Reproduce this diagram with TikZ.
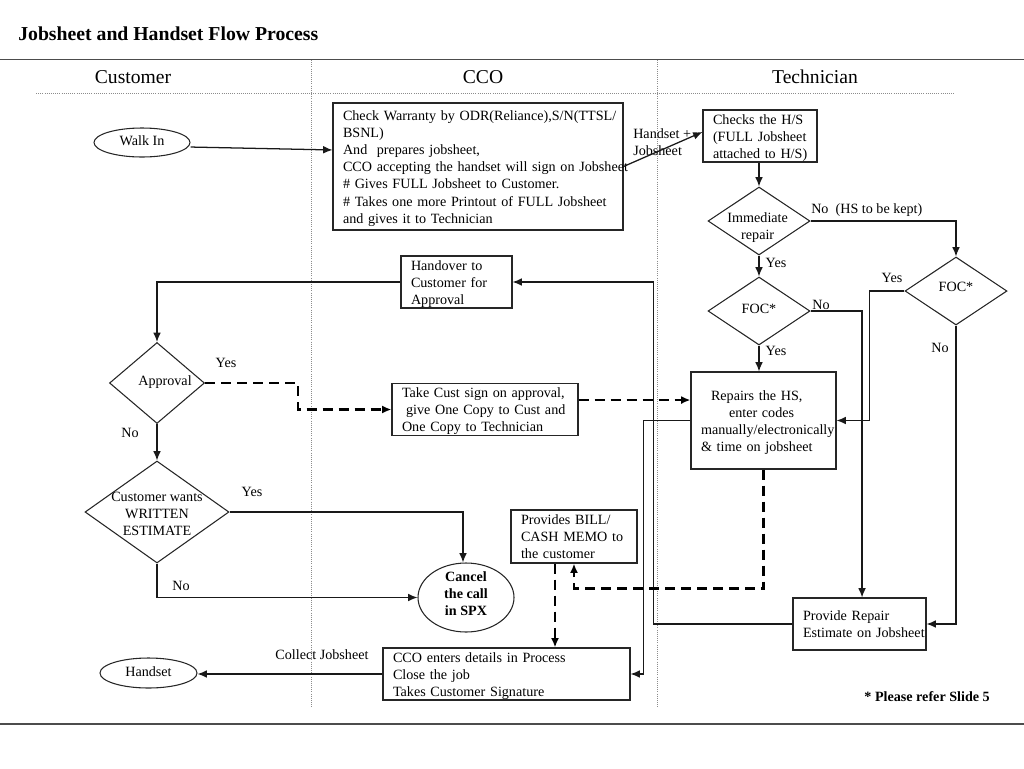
\documentclass[tikz,border=0pt]{standalone}
\usepackage{fontspec}
\setmainfont{Liberation Serif}
\usetikzlibrary{arrows.meta,shapes.geometric}
\newcommand\boxlines[1]{\raisebox{-1.5pt}[\height][\depth]{\begin{tabular}{@{}l@{}}#1\end{tabular}}}
\newcommand\dtext[3]{\makebox[0pt]{\kern#1\kern#1\raisebox{\dimexpr#2-2.7pt\relax}[0pt][0pt]{\begin{tabular}{@{}c@{}}#3\end{tabular}}}}
\begin{document}
\begin{tikzpicture}[x=0.75pt,y=-0.75pt,
  font=\fontsize{10.6}{12.8}\selectfont,
  conn/.style={draw=black!90, line width=0.95pt},
  arr/.style={conn, -{Latex[length=7pt,width=5.8pt]}},
  darr/.style={draw=black, line width=1.7pt, dash pattern=on 7.5pt off 4.5pt, -{Latex[length=7pt,width=6pt]}},
  bx/.style={draw=black!85, line width=0.8pt, rectangle, align=left, inner xsep=7.5pt, inner ysep=0pt},
  dia/.style={draw=black!85, line width=0.8pt, diamond, inner sep=0pt},
  ell/.style={draw=black!85, line width=0.8pt, ellipse, inner sep=0pt},
  lbl/.style={inner sep=0pt},
  hdr/.style={inner sep=0pt, font=\fontsize{14.7}{17}\selectfont},
  sepline/.style={draw=black!45, line width=0.6pt, dash pattern=on 0.6pt off 1pt},
]
\useasboundingbox (0,0) rectangle (1024,768);

% frame lines
\draw[draw=black!70, line width=1.1pt] (0,59.5) -- (1024,59.5);
\draw[draw=black!70, line width=1.1pt] (0,724) -- (1024,724);
\draw[sepline] (311,60) -- (311,708);
\draw[sepline] (657,60) -- (657,708);
\draw[sepline] (36,93) -- (955,93);

% title and headers
\node[inner sep=0pt, anchor=west, font=\bfseries\fontsize{14.8}{17}\selectfont] (title) at (18,34) {Jobsheet and Handset Flow Process};
\node[hdr] (hcust) at (133,77) {Customer};
\node[hdr] (hcco) at (483,77) {CCO};
\node[hdr] (htech) at (815,77) {Technician};

% boxes
\node[bx, minimum width=217.5pt, minimum height=95.25pt, text width=202.5pt] (cco) at (478,166.5)
  {\boxlines{Check Warranty by ODR(Reliance),S/N(TTSL/\\BSNL)\\And\ \ prepares jobsheet,\\CCO accepting the handset will sign on Jobsheet\\\# Gives FULL Jobsheet to Customer.\\\# Takes one more Printout of FULL Jobsheet\\and gives it to Technician}};
\node[bx, minimum width=85.5pt, minimum height=39pt, text width=70.5pt] (checks) at (760,136)
  {\boxlines{Checks the H/S\\(FULL Jobsheet\\attached to H/S)}};
\node[bx, minimum width=83.25pt, minimum height=39pt, text width=68.25pt] (handover) at (456.5,282)
  {\boxlines{Handover to\\Customer for\\Approval}};
\node[bx, minimum width=139.5pt, minimum height=38.25pt, text width=124.5pt] (takecust) at (485,409.5)
  {\boxlines{Take Cust sign on approval,\\\hspace*{3pt}give One Copy to Cust and\\One Copy to Technician}};
\node[bx, minimum width=108.75pt, minimum height=72.75pt, text width=93.75pt] (repairs) at (763.5,420.5)
  {\boxlines{\hspace*{7.5pt}Repairs the HS,\\\hspace*{21pt}enter codes\\manually/electronically\\\& time on jobsheet}};
\node[bx, minimum width=94.5pt, minimum height=39.75pt, text width=79.5pt] (bill) at (574,536.5)
  {\boxlines{Provides BILL/\\CASH MEMO to\\the customer}};
\node[bx, minimum width=99.75pt, minimum height=39pt, text width=84.75pt] (provrep) at (859.5,624)
  {\boxlines{Provide Repair\\Estimate on Jobsheet}};
\node[bx, minimum width=185.25pt, minimum height=39pt, text width=170.25pt] (close) at (506.5,674)
  {\boxlines{CCO enters details in Process\\Close the job\\Takes Customer Signature}};

% ellipses
\node[ell, minimum width=72pt, minimum height=21.75pt] (walkin) at (142,142.5) {\dtext{0pt}{0pt}{Walk In}};
\node[ell, minimum width=72pt, minimum height=51.75pt] (cancel) at (466,597.5) {\dtext{0pt}{1.5pt}{\bfseries Cancel\\\bfseries the call\\\bfseries in SPX}};
\node[ell, minimum width=72.75pt, minimum height=22.5pt] (handset) at (148.5,673) {\dtext{0pt}{0pt}{Handset}};

% diamonds
\node[dia, minimum width=76.5pt, minimum height=51pt] (imm) at (759,221) {\dtext{-1pt}{-4.9pt}{Immediate\\repair}};
\node[dia, minimum width=76.5pt, minimum height=51pt] (foc1) at (759,311) {\dtext{0pt}{1pt}{FOC*}};
\node[dia, minimum width=76.5pt, minimum height=51pt] (foc2) at (956,291) {\dtext{0pt}{2pt}{FOC*}};
\node[dia, minimum width=71.25pt, minimum height=60.75pt] (approval) at (157,383) {\dtext{6pt}{0.5pt}{Approval}};
\node[dia, minimum width=108pt, minimum height=76.5pt] (custwants) at (157,512) {\dtext{0pt}{-2.25pt}{Customer wants\\WRITTEN\\ESTIMATE}};

% labels
\node[lbl, align=left, anchor=west] (lhs) at (633,142) {Handset +\\Jobsheet};
\node[lbl, anchor=west] (lno1) at (811,210) {No\ \ (HS to be kept)};
\node[lbl] (lyes1) at (776,263) {Yes};
\node[lbl] (lno2) at (821,305) {No};
\node[lbl] (lyes2) at (776,351) {Yes};
\node[lbl] (lyes3) at (892,278) {Yes};
\node[lbl] (lno3) at (940,348) {No};
\node[lbl] (lyes4) at (226,363) {Yes};
\node[lbl] (lno4) at (130,433) {No};
\node[lbl] (lyes5) at (252,492) {Yes};
\node[lbl] (lno5) at (181,586) {No};
\node[lbl] (lcj) at (322,655) {Collect Jobsheet};
\node[lbl, anchor=east, font=\bfseries\fontsize{10.6}{12}\selectfont] (note) at (990,697) {* Please refer Slide 5};

% connectors
\draw[arr] ([yshift=-3.4pt]walkin.east) -- ([yshift=12.4pt]cco.west);
\draw[arr] (cco.east) -- ([yshift=3pt]checks.west);
\draw[arr] (imm.north |- checks.south) -- (imm.north);
\draw[arr] (imm.east) -| (foc2.north);
\draw[arr] (imm.south) -- (foc1.north);
\draw[arr] (foc1.east) -| ([xshift=1.9pt]provrep.north);
\draw[arr] (foc1.south) -- (foc1.south |- repairs.north);
\draw[arr] (foc2.west) -- ++(-35,0) |- (repairs.east);
\draw[arr] (foc2.south) |- (provrep.east);
\draw[arr] (repairs.west) -- ++(-47,0) |- (close.east);
\draw[arr] (provrep.west) -- ++(-139,0) |- (handover.east);
\draw[arr] (handover.west) -| (approval.north);
\draw[arr] (approval.south) -- (custwants.north);
\draw[arr] (custwants.east) -| ([xshift=-2.25pt]cancel.north);
\draw[arr] (custwants.south) |- (cancel.west);
\draw[arr] (close.west) -- (close.west -| handset.east);

\draw[darr] (approval.east) -- ++(93,0) |- (takecust.west);
\draw[darr] ([yshift=7.1pt]takecust.east) -- ([yshift=7.1pt]takecust.east -| repairs.west);
\draw[darr] (repairs.south) -- ++(0,119) -| (bill.south);
\draw[darr] ([xshift=-14.25pt]bill.south) -- ([xshift=-14.25pt]bill.south |- close.north);
\end{tikzpicture}
\end{document}
